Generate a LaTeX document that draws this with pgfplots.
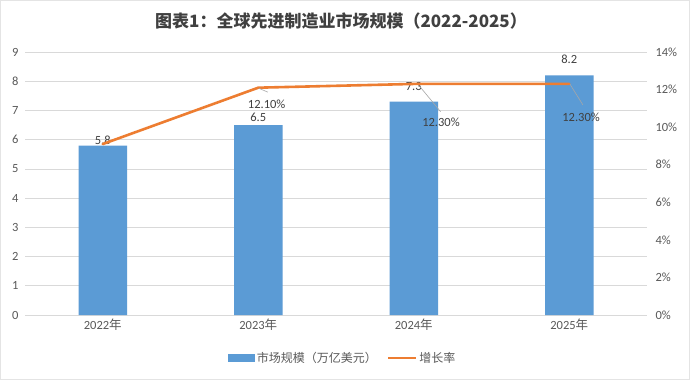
\documentclass[border=0pt]{standalone}
\usepackage{fontspec}
\setmainfont{Carlito}
\newfontfamily\cjk{Noto Sans CJK SC}
\usepackage{pgfplots}
\usepackage{pgfplotstable}
\pgfplotsset{compat=1.18}
\definecolor{barblue}{HTML}{5B9BD5}
\definecolor{lineor}{HTML}{ED7D31}
\definecolor{ticktxt}{HTML}{595959}
\definecolor{gridc}{HTML}{D9D9D9}
\definecolor{lbl}{HTML}{404040}
\definecolor{leader}{HTML}{A6A6A6}

\pgfplotstableread{
x y shift
0 5.8 5.7
1 6.5 7.9
2 7.3 15.1
3 8.2 15.6
}\bardata

\pgfplotstableread{
x y
0 9.1
1 12.1
2 12.3
3 12.3
}\growth

\begin{document}
\begin{tikzpicture}[x=1pt,y=1pt]
\path[use as bounding box] (0,0) rectangle (690,380);
\fill[white] (0,0) rectangle (690,380);
\draw[gridc!70, line width=0.6pt] (0.5,0.5) rectangle (689.5,379.5);
\node[font=\cjk\bfseries\fontsize{17}{20}\selectfont, text=lbl] at (341,359) {图表1：全球先进制造业市场规模（2022-2025）};

\begin{axis}[
  at={(25pt,65pt)}, anchor=south west, scale only axis,
  width=622pt, height=263pt,
  xmin=-0.5, xmax=3.5, ymin=0, ymax=9,
  xtick={0,1,2,3},
  xticklabels={2022{\cjk 年},2023{\cjk 年},2024{\cjk 年},2025{\cjk 年}},
  ytick={0,1,...,9},
  ymajorgrids, grid style={gridc, line width=0.75pt},
  axis line style={draw=none}, major tick length=0pt,
  tick label style={text=ticktxt, font=\fontsize{12.5}{14}\selectfont},
  yticklabel style={xshift=-3pt},
  /pgf/number format/assume math mode=true,
  legend style={at={(0.511,-0.1635)}, anchor=center, draw=none, fill=none,
    legend columns=2, font=\cjk\fontsize{12}{14}\selectfont, text=ticktxt,
    /tikz/every even column/.append style={column sep=8pt}},
  legend cell align=left,
]
\addplot[ybar, bar width=48.5pt, fill=barblue, draw=none, forget plot,
  visualization depends on={\thisrow{shift} \as \myshift},
  nodes near coords,
  nodes near coords style={anchor=center, yshift=\myshift pt, text=lbl,
    font=\fontsize{12.5}{14}\selectfont, inner sep=0pt,
    /pgf/number format/fixed, /pgf/number format/precision=1,
    /pgf/number format/fixed zerofill, /pgf/number format/assume math mode=true}]
  table[x=x, y=y] {\bardata};
\addlegendimage{legend image code/.code={\fill[barblue] (0pt,-3.5pt) rectangle (26pt,3.5pt);}}
\addlegendentry{市场规模（万亿美元）}
\addlegendimage{legend image code/.code={\draw[lineor, line width=2.5pt] (0pt,0pt) -- (28pt,0pt);}}
\addlegendentry{增长率}
\end{axis}

\begin{axis}[
  at={(25pt,65pt)}, anchor=south west, scale only axis,
  width=622pt, height=263pt,
  xmin=-0.5, xmax=3.5, ymin=0, ymax=14,
  hide x axis,
  ytick={0,2,...,14},
  yticklabel pos=right,
  yticklabel={\pgfmathprintnumber{\tick}\%},
  axis line style={draw=none}, major tick length=0pt,
  tick label style={text=ticktxt, font=\fontsize{12.5}{14}\selectfont},
  yticklabel style={xshift=5pt},
  /pgf/number format/assume math mode=true,
]
\addplot[lineor, line width=2.6pt, line join=round, line cap=round, mark=none] table[x=x, y=y] {\growth};
\draw[leader, line width=0.6pt] (axis cs:1.004,12.07) -- (axis cs:1.062,11.86);
\draw[leader, line width=0.6pt] (axis cs:2.040,12.15) -- (axis cs:2.173,10.82);
\draw[leader, line width=0.6pt] (axis cs:3.005,12.28) -- (axis cs:3.088,11.18);
\node[text=lbl, font=\fontsize{12.5}{14}\selectfont, inner sep=0pt] at (axis cs:1.054,11.23) {12.10\%};
\node[text=lbl, font=\fontsize{12.5}{14}\selectfont, inner sep=0pt] at (axis cs:2.175,10.24) {12.30\%};
\node[text=lbl, font=\fontsize{12.5}{14}\selectfont, inner sep=0pt] at (axis cs:3.076,10.50) {12.30\%};
\end{axis}
\end{tikzpicture}
\end{document}
